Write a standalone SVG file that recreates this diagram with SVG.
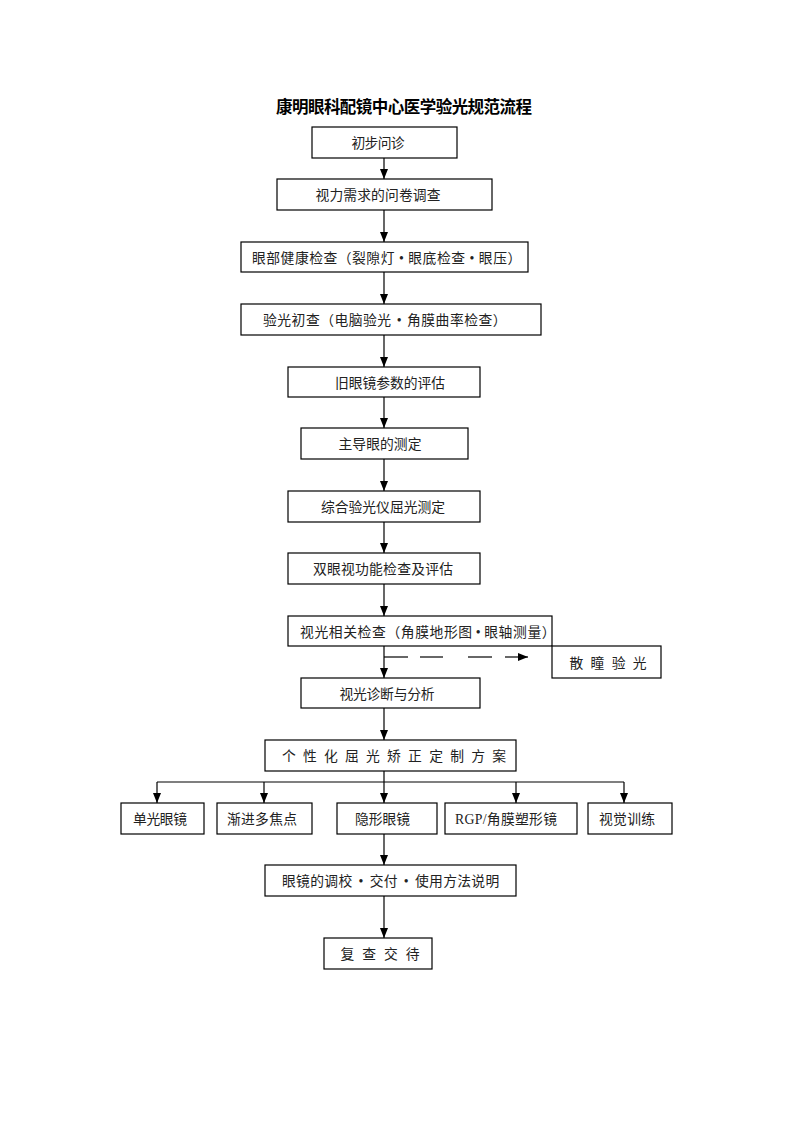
<svg xmlns="http://www.w3.org/2000/svg" width="793" height="1122" viewBox="0 0 793 1122">
<defs>
<style>
.box{fill:#fff;stroke:#000;stroke-width:1.2}
.t{font-family:"Liberation Serif","Noto Sans CJK SC",serif;font-size:13.8px;fill:#222;text-anchor:middle}
.s{text-anchor:start}
.ttl{font-family:"Liberation Sans","Noto Sans CJK SC",sans-serif;font-size:16.5px;font-weight:bold;fill:#000;text-anchor:middle}
.c{stroke:#000;stroke-width:1.2;fill:none}
.a{marker-end:url(#ah)}
</style>
<marker id="ah" markerUnits="userSpaceOnUse" markerWidth="10" markerHeight="8" refX="10" refY="4" orient="auto">
<path d="M0,0 L10,4 L0,8 Z" fill="#000"/>
</marker>
</defs>
<rect width="793" height="1122" fill="#fff"/>
<text class="ttl" x="404" y="113" textLength="256" lengthAdjust="spacing">康明眼科配镜中心医学验光规范流程</text>

<g id="connectors">
<line class="c a" x1="384" y1="158" x2="384" y2="179"/>
<line class="c a" x1="384" y1="210" x2="384" y2="242"/>
<line class="c a" x1="384" y1="272" x2="384" y2="304"/>
<line class="c a" x1="384" y1="335" x2="384" y2="367"/>
<line class="c a" x1="384" y1="397" x2="384" y2="428"/>
<line class="c a" x1="384" y1="459" x2="384" y2="491"/>
<line class="c a" x1="384" y1="522" x2="384" y2="553"/>
<line class="c a" x1="384" y1="584" x2="384" y2="616"/>
<line class="c a" x1="384" y1="646" x2="384" y2="678"/>
<line class="c a" x1="384" y1="708" x2="384" y2="740"/>
<line class="c" x1="384" y1="657" x2="408" y2="657"/>
<line class="c" x1="420" y1="657" x2="443" y2="657"/>
<line class="c" x1="468" y1="657" x2="492" y2="657"/>
<line class="c a" x1="505" y1="657" x2="528" y2="657"/>
<line class="c" x1="384" y1="771" x2="384" y2="782"/>
<line class="c" x1="157" y1="782" x2="624" y2="782"/>
<line class="c a" x1="157" y1="782" x2="157" y2="803"/>
<line class="c a" x1="264" y1="782" x2="264" y2="803"/>
<line class="c a" x1="384" y1="782" x2="384" y2="803"/>
<line class="c a" x1="516" y1="782" x2="516" y2="803"/>
<line class="c a" x1="624" y1="782" x2="624" y2="803"/>
<line class="c a" x1="384" y1="834" x2="384" y2="865"/>
<line class="c a" x1="384" y1="896" x2="384" y2="938"/>
</g>

<g id="n1"><rect class="box" x="312" y="127" width="145" height="31"/><text class="t" x="378" y="148" textLength="53" lengthAdjust="spacing">初步问诊</text></g>
<g id="n2"><rect class="box" x="277" y="179" width="215" height="31"/><text class="t" x="378" y="200" textLength="125" lengthAdjust="spacing">视力需求的问卷调查</text></g>
<g id="n3"><rect class="box" x="241" y="242" width="287" height="30"/><text class="t s" x="252" y="262.5" letter-spacing="0.5">眼部健康检查（裂隙灯<tspan dx="4">•</tspan><tspan dx="4">眼底检查</tspan><tspan dx="4">•</tspan><tspan dx="4">眼压）</tspan></text></g>
<g id="n4"><rect class="box" x="241" y="304" width="300" height="31"/><text class="t s" x="263" y="325" letter-spacing="0.5">验光初查（电脑验光<tspan dx="5">•</tspan><tspan dx="5">角膜曲率检查）</tspan></text></g>
<g id="n5"><rect class="box" x="288" y="367" width="192" height="30"/><text class="t" x="390" y="387.5" textLength="110" lengthAdjust="spacing">旧眼镜参数的评估</text></g>
<g id="n6"><rect class="box" x="301" y="428" width="167" height="31"/><text class="t" x="380" y="449" textLength="83" lengthAdjust="spacing">主导眼的测定</text></g>
<g id="n7"><rect class="box" x="288" y="491" width="192" height="31"/><text class="t" x="383" y="512" textLength="124" lengthAdjust="spacing">综合验光仪屈光测定</text></g>
<g id="n8"><rect class="box" x="288" y="553" width="192" height="31"/><text class="t" x="383" y="574" textLength="140" lengthAdjust="spacing">双眼视功能检查及评估</text></g>
<g id="n9"><rect class="box" x="288" y="616" width="264" height="30"/><text class="t s" x="300" y="636.5" letter-spacing="0.6">视光相关检查（角膜地形图<tspan dx="3">•</tspan><tspan dx="3">眼轴测量）</tspan></text></g>
<g id="n10"><rect class="box" x="552" y="646" width="109" height="32"/><text class="t" x="608" y="667.5" textLength="77" lengthAdjust="spacing">散 瞳 验 光</text></g>
<g id="n11"><rect class="box" x="301" y="678" width="179" height="30"/><text class="t" x="387" y="698.5" textLength="95" lengthAdjust="spacing">视光诊断与分析</text></g>
<g id="n12"><rect class="box" x="265" y="740" width="251" height="31"/><text class="t" x="394" y="761" textLength="224" lengthAdjust="spacing">个 性 化 屈 光 矫 正 定 制 方 案</text></g>
<g id="n13"><rect class="box" x="121" y="803" width="83" height="31"/><text class="t" x="160" y="824" textLength="54" lengthAdjust="spacing">单光眼镜</text></g>
<g id="n14"><rect class="box" x="217" y="803" width="95" height="31"/><text class="t" x="262" y="824" textLength="70" lengthAdjust="spacing">渐进多焦点</text></g>
<g id="n15"><rect class="box" x="337" y="803" width="100" height="31"/><text class="t" x="382.5" y="824" textLength="55" lengthAdjust="spacing">隐形眼镜</text></g>
<g id="n16"><rect class="box" x="445" y="803" width="132" height="31"/><text class="t" x="506" y="824" textLength="102" lengthAdjust="spacing">RGP/角膜塑形镜</text></g>
<g id="n17"><rect class="box" x="588" y="803" width="84" height="31"/><text class="t" x="627" y="824" textLength="56" lengthAdjust="spacing">视觉训练</text></g>
<g id="n18"><rect class="box" x="265" y="865" width="251" height="31"/><text class="t s" x="282" y="886" letter-spacing="0.3">眼镜的调校<tspan dx="6">•</tspan><tspan dx="6">交付</tspan><tspan dx="6">•</tspan><tspan dx="6">使用方法说明</tspan></text></g>
<g id="n19"><rect class="box" x="324" y="938" width="108" height="31"/><text class="t" x="380" y="959" textLength="79" lengthAdjust="spacing">复 查 交 待</text></g>
</svg>
